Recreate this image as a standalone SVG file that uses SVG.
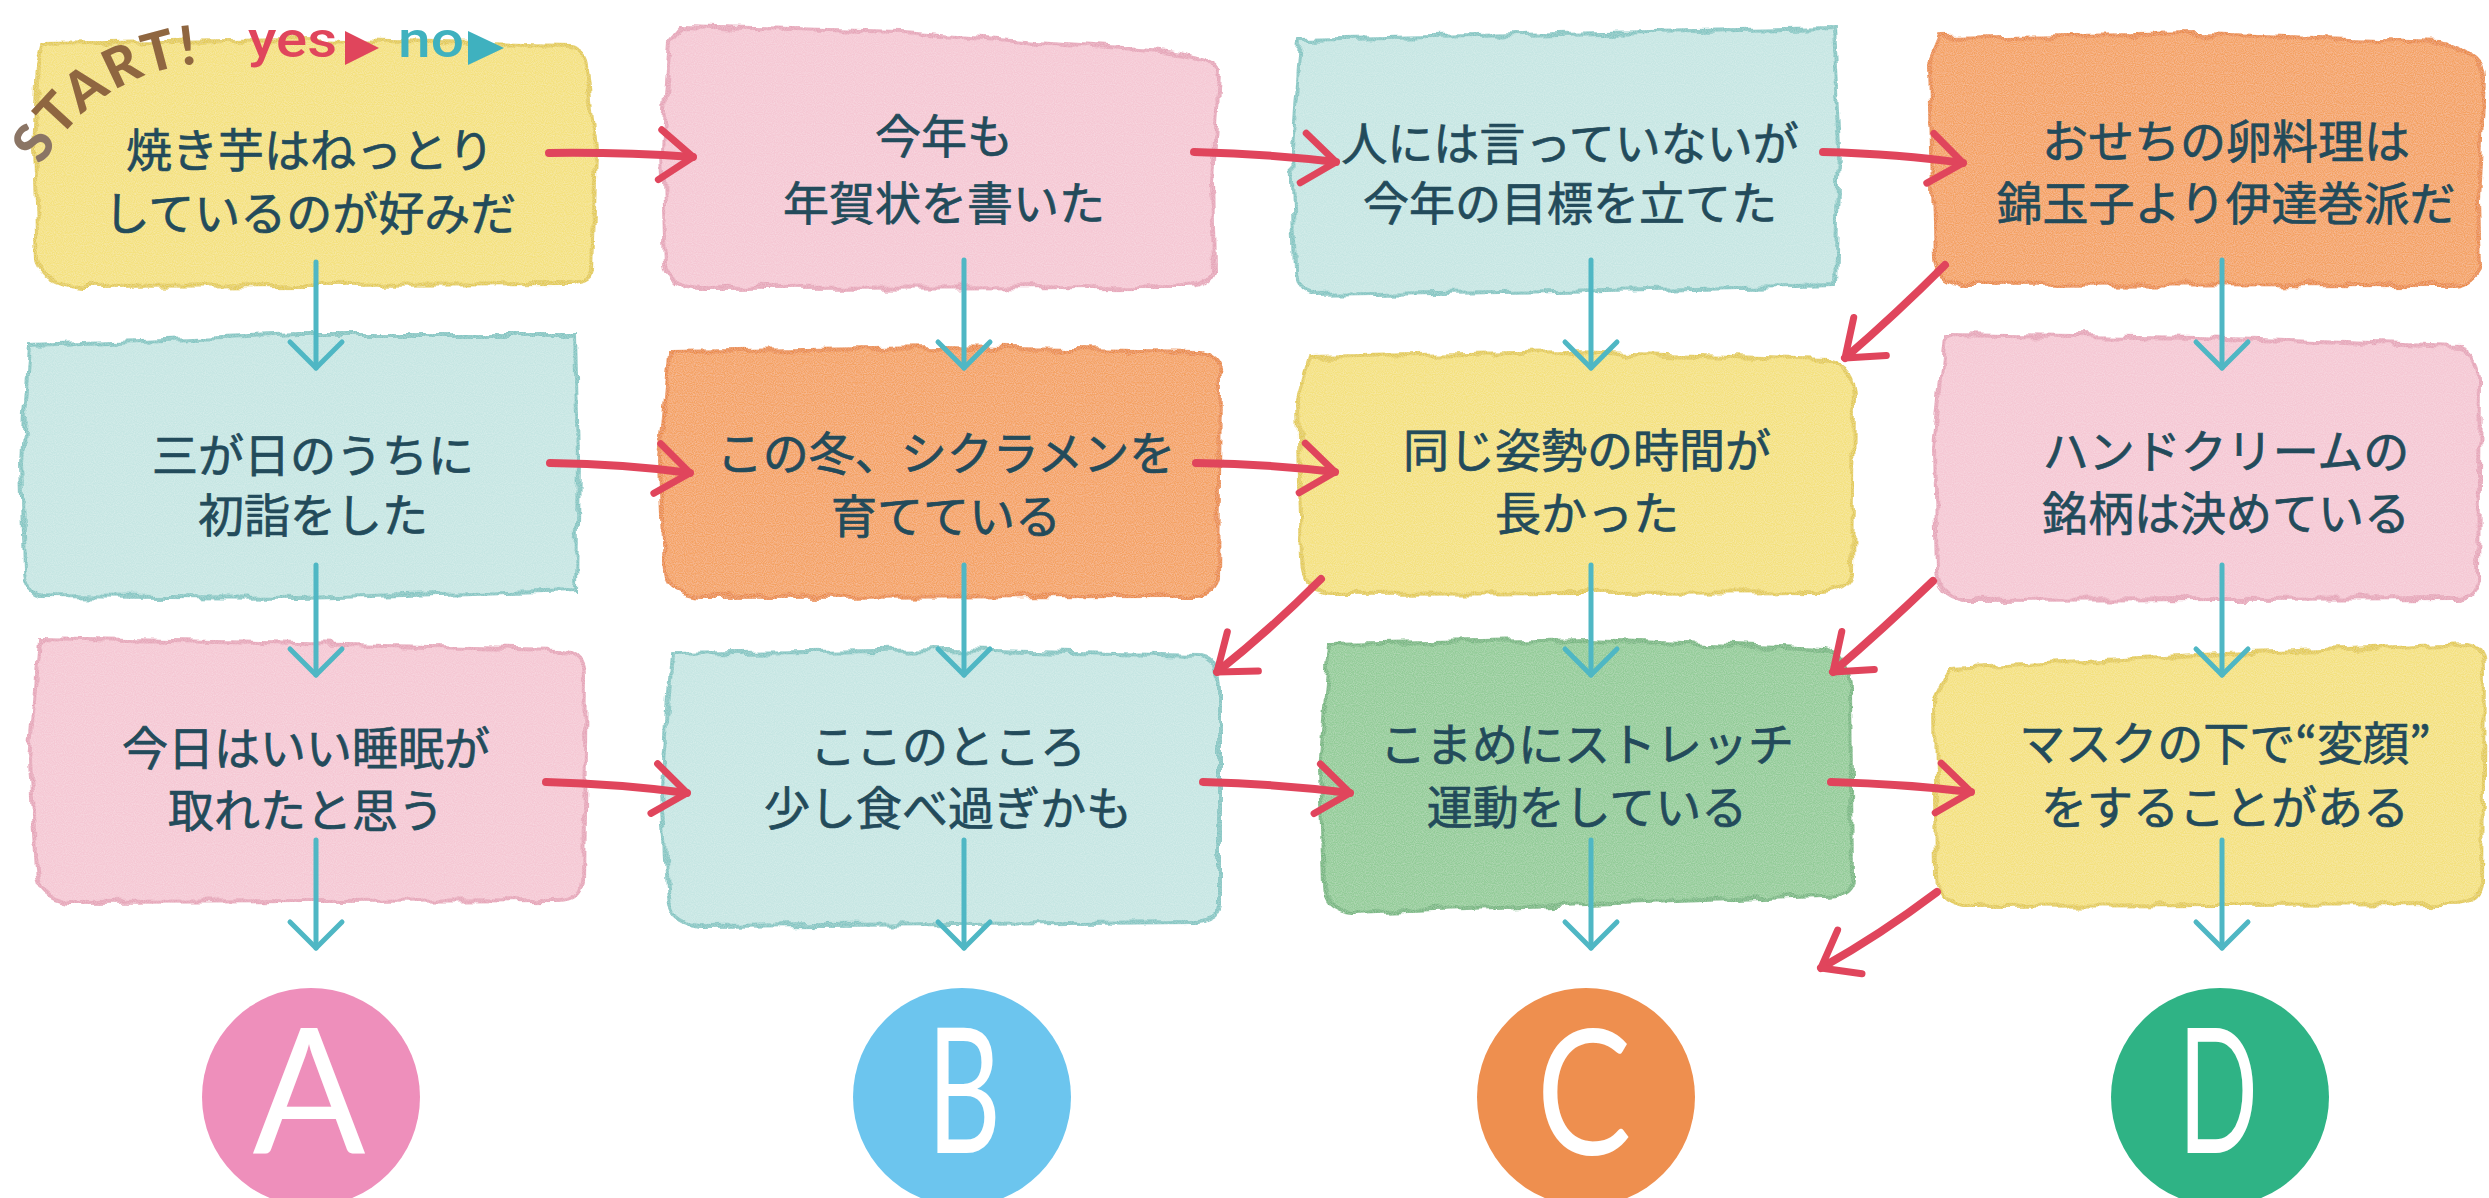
<svg xmlns="http://www.w3.org/2000/svg" width="2489" height="1198" viewBox="0 0 2489 1198">
<defs>
<style>
.t{font-family:"Noto Sans CJK JP","Noto Sans CJK SC",sans-serif;font-size:46px;fill:#234b5b;stroke:#234b5b;stroke-width:0.7;text-anchor:middle;dominant-baseline:central}
.yel{fill:#f4e17e;stroke:#e3cb55;stroke-width:4}
.pnk{fill:#f5c8d4;stroke:#e6a6b9;stroke-width:4}
.tea{fill:#c6e6e3;stroke:#84c6c3;stroke-width:4}
.org{fill:#f4a262;stroke:#ea8b47;stroke-width:4}
.grn{fill:#93cc98;stroke:#77b781;stroke-width:4}
.no{fill:none;stroke:#4fb7c4;stroke-width:5;stroke-linecap:round}
.yes{fill:none;stroke:#e0455c;stroke-width:8;stroke-linecap:round}
.big{font-family:Lato,"Noto Sans",sans-serif;font-size:175px;fill:#fff;text-anchor:middle}
</style>
<filter id="wc" x="-5%" y="-8%" width="110%" height="116%">
<feTurbulence type="fractalNoise" baseFrequency="0.04" numOctaves="3" seed="4" result="n"/>
<feDisplacementMap in="SourceGraphic" in2="n" scale="12" xChannelSelector="R" yChannelSelector="G" result="d"/>
<feTurbulence type="fractalNoise" baseFrequency="0.9" numOctaves="1" seed="7" result="g"/>
<feColorMatrix in="g" type="matrix" values="0 0 0 0 1  0 0 0 0 1  0 0 0 0 1  0.5 0 0 0 -0.17" result="gw"/>
<feComposite in="gw" in2="d" operator="in" result="gi"/>
<feMerge><feMergeNode in="d"/><feMergeNode in="gi"/></feMerge>
</filter>
<marker id="mb" markerUnits="userSpaceOnUse" viewBox="-40 -40 50 80" refX="0" refY="0" markerWidth="50" markerHeight="80" orient="auto" overflow="visible">
<path d="M-26,-26 L0,0 L-26,26" fill="none" stroke="#4fb7c4" stroke-width="5" stroke-linecap="round" stroke-linejoin="round"/>
</marker>
<marker id="mr" markerUnits="userSpaceOnUse" viewBox="-40 -40 50 80" refX="0" refY="0" markerWidth="50" markerHeight="80" orient="auto" overflow="visible">
<path d="M-33,-25 L0,0 L-33,25" fill="none" stroke="#e0455c" stroke-width="7" stroke-linecap="round" stroke-linejoin="round"/>
</marker>
</defs>
<rect width="2489" height="1198" fill="#ffffff"/>

<g id="n1"><path class="yel" filter="url(#wc)" d="M42,44 L300,40 L570,46 Q590,50 588,70 L596,150 L592,270 Q590,284 570,284 L80,286 Q42,282 38,260 L34,150 L38,60 Z"/>
<text class="t" x="310" y="147">焼き芋はねっとり</text><text class="t" x="310" y="210">しているのが好みだ</text></g>
<g id="n2"><path class="pnk" filter="url(#wc)" d="M682,26 L900,32 L1150,50 Q1214,56 1218,72 L1212,180 L1214,270 Q1208,286 1185,287 L700,288 Q668,286 666,265 L662,150 L670,40 Z"/>
<text class="t" x="944" y="133">今年も</text><text class="t" x="944" y="200">年賀状を書いた</text></g>
<g id="n3"><path class="tea" filter="url(#wc)" d="M1300,40 L1560,34 L1834,28 L1840,150 L1836,285 L1560,291 L1310,295 Q1296,290 1296,270 L1292,150 Z"/>
<text class="t" x="1570" y="140">人には言っていないが</text><text class="t" x="1570" y="200">今年の目標を立てた</text></g>
<g id="n4"><path class="org" filter="url(#wc)" d="M1940,38 L2200,34 L2440,42 Q2484,55 2484,80 L2478,200 L2480,270 Q2472,285 2450,284 L1960,285 Q1935,280 1935,260 L1932,150 L1930,62 Z"/>
<text class="t" x="2226" y="138">おせちの卵料理は</text><text class="t" x="2226" y="200">錦玉子より伊達巻派だ</text></g>

<g id="n5"><path class="tea" filter="url(#wc)" d="M30,345 L300,335 L575,335 L578,460 L576,590 L300,598 L40,596 Q25,590 25,570 L22,460 Z"/>
<text class="t" x="313" y="452">三が日のうちに</text><text class="t" x="313" y="512">初詣をした</text></g>
<g id="n6"><path class="org" filter="url(#wc)" d="M670,352 L940,348 L1200,352 Q1220,358 1220,380 L1218,580 Q1214,596 1195,596 L700,597 Q665,592 664,570 L660,460 Z"/>
<text class="t" x="946" y="450">この冬、シクラメンを</text><text class="t" x="946" y="513">育てている</text></g>
<g id="n7"><path class="yel" filter="url(#wc)" d="M1310,357 L1570,352 L1828,360 Q1854,367 1854,400 L1852,575 Q1848,592 1820,592 L1330,594 Q1302,590 1302,560 L1298,400 Z"/>
<text class="t" x="1587" y="447">同じ姿勢の時間が</text><text class="t" x="1587" y="510">長かった</text></g>
<g id="n8"><path class="pnk" filter="url(#wc)" d="M1945,334 L2200,338 L2460,347 Q2480,355 2480,380 L2478,580 Q2474,598 2455,598 L1965,600 Q1938,596 1937,570 L1934,450 Z"/>
<text class="t" x="2226" y="448">ハンドクリームの</text><text class="t" x="2226" y="510">銘柄は決めている</text></g>

<g id="n9"><path class="pnk" filter="url(#wc)" d="M40,638 L300,644 L560,650 Q586,655 586,680 L583,880 Q580,900 560,900 L70,902 Q38,898 36,870 L30,760 Z"/>
<text class="t" x="306" y="745">今日はいい睡眠が</text><text class="t" x="306" y="807">取れたと思う</text></g>
<g id="n10"><path class="tea" filter="url(#wc)" d="M672,654 L950,650 L1200,656 Q1220,660 1220,690 L1220,905 Q1216,922 1195,922 L700,926 Q668,922 668,890 L662,790 Z"/>
<text class="t" x="948" y="743">ここのところ</text><text class="t" x="948" y="805">少し食べ過ぎかも</text></g>
<g id="n11"><path class="grn" filter="url(#wc)" d="M1330,645 L1590,640 L1824,650 Q1850,656 1850,690 L1852,880 Q1848,897 1822,896 L1350,912 Q1325,910 1324,885 L1320,770 Z"/>
<text class="t" x="1587" y="741">こまめにストレッチ</text><text class="t" x="1587" y="804">運動をしている</text></g>
<g id="n12"><path class="yel" filter="url(#wc)" d="M1950,668 L2200,655 L2468,644 Q2484,646 2484,670 L2482,885 Q2478,904 2455,904 L1965,906 Q1938,902 1937,875 L1935,700 Z"/>
<text class="t" x="2225" y="740">マスクの下で“変顔”</text><text class="t" x="2225" y="804">をすることがある</text></g>

<g id="legend">
<path id="arc" d="M36.5,176.7 A197,197 0 0 1 232.2,63.7" fill="none"/>
<text font-family="Lato,'Liberation Sans',sans-serif" font-weight="900" font-size="54" fill="#8f6640" letter-spacing="3"><textPath href="#arc" startOffset="12"><tspan fill="#8b7565">S</tspan>TART!</textPath></text>
<text x="248" y="57" font-family="Roboto,'Liberation Sans',sans-serif" font-weight="500" font-size="50" fill="#e0455c" textLength="89" lengthAdjust="spacingAndGlyphs">yes</text>
<polygon points="345,31 379,48 345,65" fill="#e0455c"/>
<text x="398" y="57" font-family="Roboto,'Liberation Sans',sans-serif" font-weight="500" font-size="50" fill="#3fb1bf" textLength="66" lengthAdjust="spacingAndGlyphs">no</text>
<polygon points="468,31 504,48 468,65" fill="#3fb1bf"/>
</g>

<g id="connectors">
<path class="no" marker-end="url(#mb)" d="M316,262 L316,368"/>
<path class="no" marker-end="url(#mb)" d="M316,565 L316,675"/>
<path class="no" marker-end="url(#mb)" d="M316,840 L316,948"/>
<path class="no" marker-end="url(#mb)" d="M964,260 L964,368"/>
<path class="no" marker-end="url(#mb)" d="M964,565 L964,675"/>
<path class="no" marker-end="url(#mb)" d="M964,840 L964,948"/>
<path class="no" marker-end="url(#mb)" d="M1591,260 L1591,368"/>
<path class="no" marker-end="url(#mb)" d="M1591,565 L1591,675"/>
<path class="no" marker-end="url(#mb)" d="M1591,840 L1591,948"/>
<path class="no" marker-end="url(#mb)" d="M2222,260 L2222,368"/>
<path class="no" marker-end="url(#mb)" d="M2222,565 L2222,675"/>
<path class="no" marker-end="url(#mb)" d="M2222,840 L2222,948"/>

<path class="yes" marker-end="url(#mr)" d="M549,153 Q620,152 693,157"/>
<path class="yes" marker-end="url(#mr)" d="M1194,152 Q1270,154 1336,162"/>
<path class="yes" marker-end="url(#mr)" d="M1823,152 Q1900,154 1963,163"/>
<path class="yes" marker-end="url(#mr)" d="M550,463 Q625,464 690,473"/>
<path class="yes" marker-end="url(#mr)" d="M1196,463 Q1270,464 1335,472"/>
<path class="yes" marker-end="url(#mr)" d="M546,782 Q620,784 687,793"/>
<path class="yes" marker-end="url(#mr)" d="M1203,782 Q1280,784 1350,793"/>
<path class="yes" marker-end="url(#mr)" d="M1831,782 Q1905,784 1971,792"/>

<path class="yes" marker-end="url(#mr)" d="M1945,265 Q1895,315 1845,358"/>
<path class="yes" marker-end="url(#mr)" d="M1321,579 Q1270,630 1217,672"/>
<path class="yes" marker-end="url(#mr)" d="M1933,581 Q1882,630 1833,672"/>
<path class="yes" marker-end="url(#mr)" d="M1937,892 Q1880,935 1821,968"/>
</g>

<g id="A"><circle cx="311" cy="1097" r="109" fill="#ee8fbb"/><text class="big" x="309" y="1153" textLength="113" lengthAdjust="spacingAndGlyphs">A</text></g>
<g id="B"><circle cx="962" cy="1097" r="109" fill="#6cc5ee"/><text class="big" x="964" y="1153" textLength="74" lengthAdjust="spacingAndGlyphs">B</text></g>
<g id="C"><circle cx="1586" cy="1097" r="109" fill="#ee8f4f"/><text class="big" x="1584" y="1155" textLength="95" lengthAdjust="spacingAndGlyphs">C</text></g>
<g id="D"><circle cx="2220" cy="1097" r="109" fill="#2fb385"/><text class="big" x="2218" y="1153" textLength="80" lengthAdjust="spacingAndGlyphs">D</text></g>
</svg>
